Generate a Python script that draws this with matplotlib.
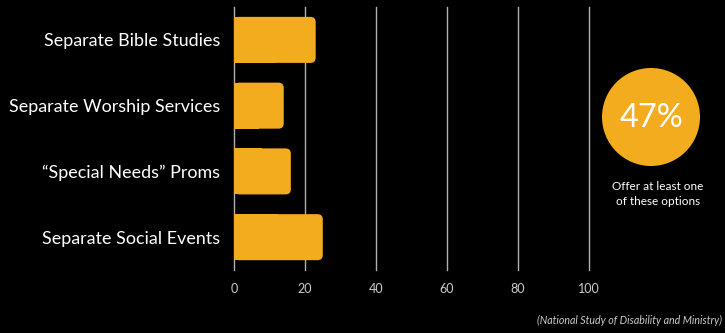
import matplotlib.pyplot as plt
from matplotlib.patches import FancyBboxPatch, Rectangle, Circle

categories = ["Separate Bible Studies", "Separate Worship Services",
              "\u201cSpecial Needs\u201d Proms", "Separate Social Events"]
values = [23, 14, 16, 25]
ticks = [0, 20, 40, 60, 80, 100]
overall = 47
caption = "Offer at least one\nof these options"
source = "(National Study of Disability and Ministry)"

plt.rcParams['font.family'] = ['Lato', 'DejaVu Sans']
gold = '#F4AC1F'

fig = plt.figure(figsize=(7.25, 3.33), dpi=100, facecolor='black')
ax = fig.add_axes([0.3228, 0.189, 0.4897, 0.79], facecolor='black')
ax.set_xlim(0, 100)
ax.set_ylim(3.5, -0.5)

# vertical grid lines, behind the bars
for t in ticks:
    ax.axvline(t, color='#b0b0b0', lw=1, zorder=1, clip_on=False)

bh = 0.7
for i, v in enumerate(values):
    # rounded right end, square left end
    ax.add_patch(FancyBboxPatch((0, i - bh / 2), v, bh,
                                boxstyle="round,pad=0,rounding_size=1.5",
                                mutation_aspect=0.054, fc=gold, ec='none', zorder=2))
    ax.add_patch(Rectangle((0, i - bh / 2), v / 2, bh, fc=gold, ec='none', zorder=2))

ax.set_yticks(range(len(categories)))
ax.set_yticklabels(categories, color='white', fontsize=12.9)
ax.set_xticks(ticks)
ax.set_xticklabels([str(t) for t in ticks], color='#cccccc', fontsize=9)
ax.tick_params(axis='y', length=0, pad=10)
ax.tick_params(axis='x', length=0, pad=9)
for s in ax.spines.values():
    s.set_visible(False)

# circle callout
cax = fig.add_axes([0, 0, 1, 1], facecolor='none')
cax.set_xlim(0, 725)
cax.set_ylim(333, 0)
cax.axis('off')
cax.add_patch(Circle((651, 117), 49, fc=gold, ec='none'))
cax.text(652, 118, f"{overall}%", color='white', fontsize=23.5, ha='center', va='center')
cax.text(658, 194, caption, color='white', fontsize=8.5, ha='center', va='center',
         linespacing=1.4)
cax.text(722, 320, source, color='#cccccc', fontsize=7.7, style='italic',
         ha='right', va='center')

fig.savefig('out.png', dpi=100, facecolor='black')
